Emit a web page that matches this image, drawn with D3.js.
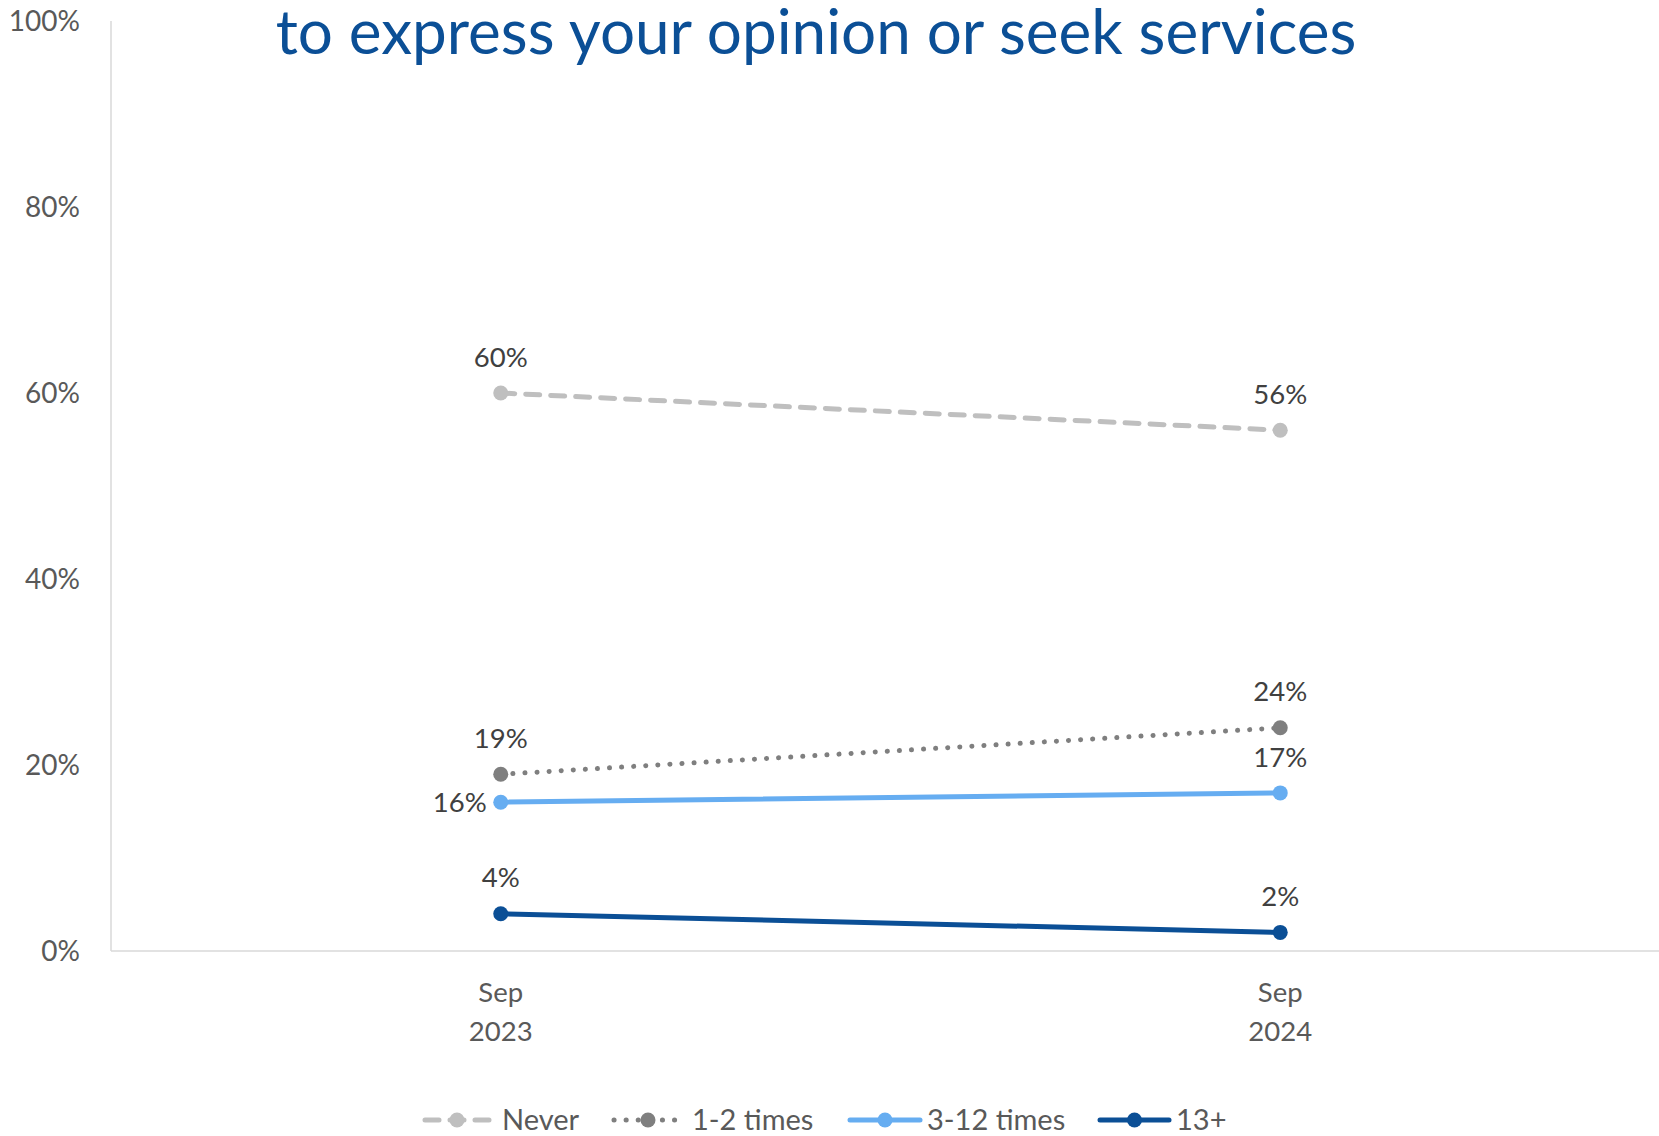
<!DOCTYPE html>
<html><head><meta charset="utf-8">
<script src="https://cdn.jsdelivr.net/npm/d3@7"></script>
<style>
html,body{margin:0;padding:0;background:#fff;}
svg{display:block;font-family:Lato, "Open Sans", sans-serif;}
</style></head>
<body>
<svg id="chart" width="1659" height="1136"></svg>
<script>
const categories = ["Sep\n2023", "Sep\n2024"];
const seriesNames = ["Never", "1-2 times", "3-12 times", "13+"];
const neverValues = [60, 56];
const onceTwiceValues = [19, 24];
const threeTwelveValues = [16, 17];
const thirteenPlusValues = [4, 2];
const yTicks = [0, 20, 40, 60, 80, 100];
const titleText = "to express your opinion or seek services";

(function () {
const series = [
  {name: seriesNames[0], values: neverValues, color: "#BFBFBF", dash: "14,11", width: 5, labelPos: ["top", "top"]},
  {name: seriesNames[1], values: onceTwiceValues, color: "#7F7F7F", dash: "0.1,12", width: 5, labelPos: ["top", "top"]},
  {name: seriesNames[2], values: threeTwelveValues, color: "#66ADF1", dash: null, width: 5, labelPos: ["left", "top"]},
  {name: seriesNames[3], values: thirteenPlusValues, color: "#0B4F96", dash: null, width: 5, labelPos: ["top", "top"]}
];

const svg = d3.select("#chart");
const pLeft = 111, pRight = 1670, pTop = 21, pBottom = 951;

const x = d3.scalePoint().domain(categories).range([pLeft, pRight]).padding(0.5);
const y = d3.scaleLinear().domain([0, 100]).range([pBottom, pTop]);

svg.append("line").attr("x1", pLeft).attr("x2", pLeft).attr("y1", pTop).attr("y2", pBottom)
  .attr("stroke", "#D9D9D9").attr("stroke-width", 1.5);
svg.append("line").attr("x1", pLeft).attr("x2", 1659).attr("y1", pBottom).attr("y2", pBottom)
  .attr("stroke", "#D9D9D9").attr("stroke-width", 1.5);

svg.append("g").selectAll("text").data(yTicks).join("text")
  .attr("x", 80).attr("y", d => y(d)).attr("dy", "0.35em")
  .attr("text-anchor", "end").attr("font-size", 28).attr("fill", "#595959")
  .text(d => d + "%");

const xl = svg.append("g").selectAll("text").data(categories).join("text")
  .attr("text-anchor", "middle").attr("font-size", 27.5).attr("fill", "#595959");
xl.each(function(d) {
  const parts = d.split("\n");
  const t = d3.select(this);
  parts.forEach((p, i) => {
    t.append("tspan").attr("x", x(d)).attr("y", 1002 + i * 39).text(p);
  });
});

svg.append("text").attr("x", 816).attr("y", 54).attr("text-anchor", "middle")
  .attr("font-size", 62).attr("fill", "#0B4F96").text(titleText);

const line = d3.line().x((v, i) => x(categories[i])).y(v => y(v));

series.forEach(s => {
  svg.append("path").attr("d", line(s.values)).attr("fill", "none")
    .attr("stroke", s.color).attr("stroke-width", s.width)
    .attr("stroke-linecap", "round")
    .attr("stroke-dasharray", s.dash);
  svg.append("g").selectAll("circle").data(s.values).join("circle")
    .attr("cx", (v, i) => x(categories[i])).attr("cy", v => y(v)).attr("r", 7.5)
    .attr("fill", s.color);
  svg.append("g").selectAll("text").data(s.values).join("text")
    .attr("x", (v, i) => s.labelPos[i] === "left" ? x(categories[i]) - 14 : x(categories[i]))
    .attr("y", (v, i) => s.labelPos[i] === "left" ? y(v) : y(v) - 36)
    .attr("dy", "0.35em")
    .attr("text-anchor", (v, i) => s.labelPos[i] === "left" ? "end" : "middle")
    .attr("font-size", 27.5).attr("fill", "#404040")
    .text(v => v + "%");
});

const legendItems = [
  {s: series[0], x1: 425, x2: 489, tx: 502},
  {s: series[1], x1: 614, x2: 682, tx: 692},
  {s: series[2], x1: 850, x2: 920, tx: 927},
  {s: series[3], x1: 1100, x2: 1169, tx: 1176}
];
const ly = 1120;
const lg = svg.append("g");
legendItems.forEach(it => {
  lg.append("line").attr("x1", it.x1).attr("x2", it.x2).attr("y1", ly).attr("y2", ly)
    .attr("stroke", it.s.color).attr("stroke-width", it.s.width)
    .attr("stroke-linecap", "round").attr("stroke-dasharray", it.s.dash);
  lg.append("circle").attr("cx", (it.x1 + it.x2) / 2).attr("cy", ly).attr("r", 7.5).attr("fill", it.s.color);
  lg.append("text").attr("x", it.tx).attr("y", ly).attr("dy", "0.35em")
    .attr("font-size", 29).attr("fill", "#595959").text(it.s.name);
});
})();
</script>
</body></html>
